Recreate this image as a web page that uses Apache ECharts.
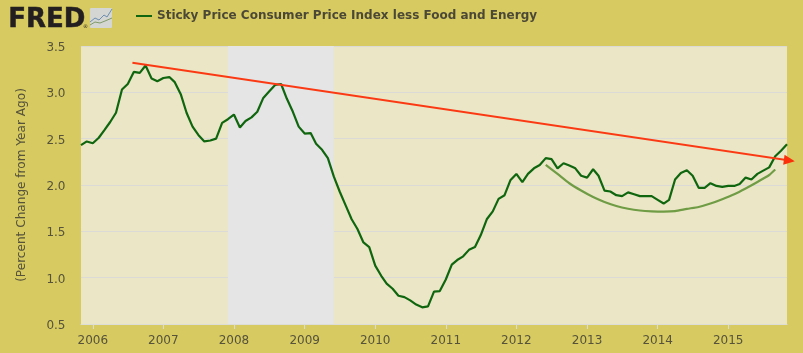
<!DOCTYPE html>
<html><head><meta charset="utf-8">
<style>html,body{margin:0;padding:0;background:#d6ca60}#c{width:803px;height:353px}</style>
<script src="https://cdn.jsdelivr.net/npm/echarts@6/dist/echarts.min.js"></script>
</head><body><div id="c"></div>
<script>
const seriesName = 'Sticky Price Consumer Price Index less Food and Energy';
const yAxisName = '(Percent Change from Year Ago)';
const firstYear = 2005, firstMonth = 11;
const stickyValues = [
 2.43,2.47,2.45,2.51,2.59,2.68,2.78,3.03,3.09,3.22,3.21,3.29,3.15,3.12,3.155,3.165,3.11,2.98,2.78,2.63,
 2.54,2.47,2.48,2.50,2.67,2.71,2.76,2.62,2.69,2.73,2.79,2.94,3.01,3.08,3.09,2.93,2.79,2.63,2.555,2.56,
 2.445,2.38,2.29,2.09,1.93,1.78,1.63,1.525,1.38,1.33,1.13,1.02,0.935,0.88,0.805,0.79,0.755,0.71,0.68,0.69,
 0.85,0.855,0.98,1.14,1.19,1.23,1.30,1.33,1.46,1.63,1.715,1.85,1.89,2.05,2.12,2.03,2.12,2.18,2.215,2.29,
 2.28,2.18,2.235,2.21,2.18,2.10,2.08,2.17,2.10,1.94,1.93,1.89,1.88,1.92,1.90,1.88,1.88,1.88,1.84,1.80,
 1.84,2.06,2.13,2.16,2.10,1.97,1.97,2.02,1.99,1.98,1.99,1.99,2.01,2.08,2.06,2.12,2.155,2.19,2.31,2.37,2.44
];
const arcDates = ['2012-06-01','2012-08-01','2012-10-01','2012-12-01','2013-02-01','2013-04-01','2013-06-01','2013-08-01','2013-10-01','2013-12-01','2014-02-01','2014-04-01','2014-06-01','2014-08-01','2014-10-01','2014-12-01','2015-02-01','2015-04-01','2015-06-01','2015-08-01','2015-09-01'];
const arcValues = [2.216,2.119,2.019,1.940,1.870,1.817,1.774,1.744,1.725,1.716,1.713,1.718,1.742,1.763,1.800,1.847,1.901,1.963,2.033,2.108,2.168];
const trendDates = ['2006-07-25','2015-11-13'];
const trendValues = [3.32,2.265];
const recession = ['2007-12-01','2009-06-01'];
const yTicks = {min:0.5,max:3.5,interval:0.5};

const pad = n => String(n).padStart(2,'0');
const monthDate = i => {
  const m = firstYear*12 + firstMonth-1 + i;
  return Math.floor(m/12)+'-'+pad(m%12+1)+'-01';
};
const sticky = stickyValues.map((v,i)=>[monthDate(i),v]);
const txt = '#56523c';
const chart = echarts.init(document.getElementById('c'),null,{renderer:'canvas'});
chart.setOption({
  animation:false,
  backgroundColor:'#d6ca60',
  textStyle:{fontFamily:'DejaVu Sans'},
  grid:{left:81,right:16,top:46,bottom:29,show:true,backgroundColor:'#ebe7c6',borderWidth:0},
  legend:{show:true,left:136,top:10,padding:0,data:[seriesName],icon:'rect',itemWidth:16,itemHeight:2,itemGap:5,
    textStyle:{fontFamily:'DejaVu Sans',fontWeight:'bold',fontSize:12,color:'#4c4836',padding:[0,0,0,0]}},
  xAxis:{type:'time',min:monthDate(0),max:monthDate(stickyValues.length-1),
    minInterval:365*24*3600*1000,maxInterval:366*24*3600*1000,
    axisLine:{show:true,lineStyle:{color:'#dcdcd8',width:1}},
    axisTick:{show:true,length:5,lineStyle:{color:'#dcdcd0',width:1}},
    splitLine:{show:false},minorTick:{show:false},
    axisLabel:{color:txt,fontSize:12,margin:11,showMinLabel:false,showMaxLabel:false,hideOverlap:false,
      formatter:v=>String(new Date(v).getFullYear()),fontFamily:'DejaVu Sans'}},
  yAxis:{type:'value',min:yTicks.min,max:yTicks.max,interval:yTicks.interval,
    name:yAxisName,nameLocation:'middle',nameGap:53,nameTextStyle:{color:txt,fontSize:12.1,fontFamily:'DejaVu Sans'},
    axisLine:{show:false},axisTick:{show:false},
    splitLine:{show:true,lineStyle:{color:'#dbdad6',width:1}},
    axisLabel:{color:txt,fontSize:12,margin:15.5,formatter:v=>'{a|'+v.toFixed(1)+'}',
      rich:{a:{color:txt,fontSize:12,fontFamily:'DejaVu Sans',padding:[4,0,0,0]}}}},
  series:[
    {name:seriesName,type:'line',data:sticky,showSymbol:false,lineStyle:{color:'#0f660f',width:2.2},itemStyle:{color:'#0f660f'},z:3,
     markArea:{silent:true,itemStyle:{color:'#e5e5e5',opacity:1},data:[[{xAxis:recession[0]},{xAxis:recession[1]}]],z:1}},
    {name:'Arc',type:'line',smooth:0.2,data:arcDates.map((d,i)=>[d,arcValues[i]]),showSymbol:false,
     lineStyle:{color:'#6f9c44',width:2.2},z:2},
    {name:'Trend',type:'line',clip:false,showSymbol:true,showAllSymbol:true,
     data:[{value:[trendDates[0],trendValues[0]],symbol:'none'},
           {value:[trendDates[1],trendValues[1]],symbol:'triangle',symbolSize:[10,11],symbolRotate:-98}],
     lineStyle:{color:'#fb3a14',width:2},itemStyle:{color:'#fb2f0a'},z:4}
  ],
  graphic:[
    {type:'text',left:8,top:7,style:{text:'FRED',fontFamily:'DejaVu Sans',fontWeight:'bold',fontSize:26,fill:'#231f20',stroke:'#231f20',lineWidth:0.5}},
    {type:'text',left:83,top:24,style:{text:'®',fontFamily:'DejaVu Sans',fontSize:5,fill:'#231f20'}},
    {type:'rect',shape:{x:90,y:8,width:22,height:20,r:1},style:{fill:'#d3d6d2'}},
    {type:'polyline',shape:{points:[[90,22],[95,18],[99,20],[104,15],[107,17],[112,9]]},style:{stroke:'#6d8eb0',lineWidth:1,fill:null}},
    {type:'polyline',shape:{points:[[90,25],[95,22],[100,23],[105,21],[112,18]]},style:{stroke:'#7f9a6a',lineWidth:1,fill:null}}
  ]
});
</script></body></html>
